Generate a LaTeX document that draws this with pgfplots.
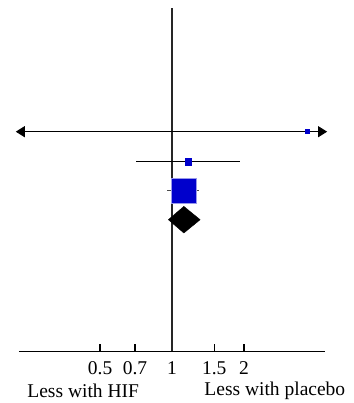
\documentclass[border=0pt]{standalone}
\usepackage{pgfplots}
\pgfplotsset{compat=1.18}
\usetikzlibrary{arrows.meta}
\usepackage{fontspec}
\setmainfont{Liberation Serif}
\definecolor{fpblue}{RGB}{0,0,204}
\begin{document}
\begin{tikzpicture}
\path[use as bounding box] (-19pt,-52pt) rectangle (334pt,351pt);
\begin{axis}[
  anchor=south west, at={(0pt,0pt)},
  scale only axis, width=306pt, height=343pt,
  xmode=log, log basis x=e,
  xmin=0.229, xmax=4.36, ymin=0, ymax=343,
  axis x line=bottom, axis y line=none,
  axis line style={line width=1pt, -},
  xtick={0.5,0.7,1,1.5,2},
  xticklabels={0.5,0.7,1,1.5,2},
  xtick align=inside, major tick length=7pt,
  major tick style={black, line width=1.2pt},
  minor tick num=0,
  /pgf/number format/assume math mode=true,
  tick label style={font=\fontsize{19.5}{21}\selectfont},
  xticklabel style={yshift=-7pt},
  clip=false,
]
% tick marks above the axis line
\addplot[ycomb, black, line width=1.2pt, mark=none] coordinates {(0.5,7) (0.7,7) (1.5,7) (2,7)};
% vertical line of no effect
\addplot[black!85, line width=1.3pt] coordinates {(1,0) (1,343)};
% row 1
\addplot[black, line width=1pt, {Triangle[length=9pt,width=11pt]}-{Triangle[length=9pt,width=11pt]}] coordinates {(0.222,219.3) (4.45,219.3)};
\addplot[only marks, mark=square*, mark size=2pt, fpblue, mark options={fill=fpblue, draw=fpblue}] coordinates {(3.69,219.3)};
% row 2
\addplot[black, line width=1pt] coordinates {(0.709,189.3) (1.92,189.3)};
\addplot[only marks, mark=square*, mark size=3.2pt, fpblue, mark options={fill=fpblue, draw=fpblue}] coordinates {(1.17,189.3)};
% row 3
\addplot[black!70, line width=1pt] coordinates {(0.956,160.2) (1.30,160.2)};
\addplot[only marks, mark=square*, mark size=12.5pt, fpblue, mark options={fill=fpblue, draw=fpblue!40, line width=0.6pt}] coordinates {(1.115,160.2)};
% pooled diamond
\addplot[fill=black, draw=black, line width=0.4pt] coordinates {(0.965,131.3) (1.12,144.6) (1.31,131.3) (1.12,118.0)} -- cycle;
% direction labels
\node[font=\fontsize{19.5}{21}\selectfont] at (axis cs:0.425,-39.5) {Less with HIF};
\node[font=\fontsize{19.5}{21}\selectfont] at (axis cs:2.69,-39.5) {Less with placebo};
\end{axis}
\end{tikzpicture}
\end{document}
